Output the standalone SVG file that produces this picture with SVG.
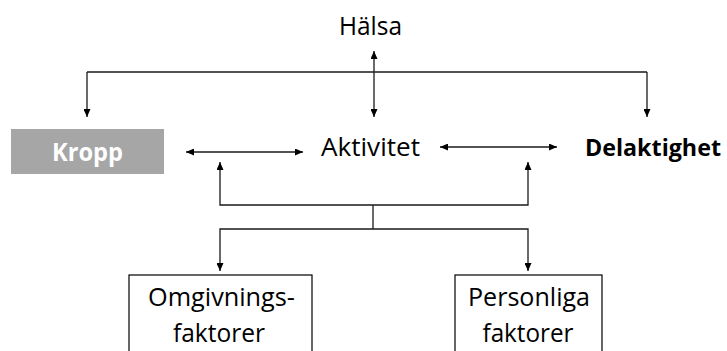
<svg xmlns="http://www.w3.org/2000/svg" width="727" height="351" viewBox="0 0 727 351">
<style>
.t{font-family:"Open Sans","Noto Sans","Liberation Sans",sans-serif;font-size:25px;fill:#000;text-anchor:middle}
.b{font-weight:bold}
.c{fill:none;stroke:#1a1a1a;stroke-width:1.3}
.box{fill:#fff;stroke:#000;stroke-width:1.2}
</style>
<defs>
<marker id="ah" viewBox="0 0 8 7" refX="8" refY="3.5" markerWidth="8" markerHeight="7" markerUnits="userSpaceOnUse" orient="auto-start-reverse">
<path d="M0,0 L8,3.5 L0,7 z" fill="#000"/>
</marker>
</defs>
<rect width="727" height="351" fill="#fff"/>
<g id="connectors">
<path class="c" d="M87,72 H647"/>
<path class="c" d="M87,72 V117" marker-end="url(#ah)"/>
<path class="c" d="M647,72 V117" marker-end="url(#ah)"/>
<path class="c" d="M374,51 V117" marker-start="url(#ah)" marker-end="url(#ah)"/>
<path class="c" d="M186,152 H303" marker-start="url(#ah)" marker-end="url(#ah)"/>
<path class="c" d="M440,147 H557" marker-start="url(#ah)" marker-end="url(#ah)"/>
<path class="c" d="M220,162 V205 H528 V162" marker-start="url(#ah)" marker-end="url(#ah)"/>
<path class="c" d="M373,205 V229"/>
<path class="c" d="M220,271 V229 H528 V271" marker-start="url(#ah)" marker-end="url(#ah)"/>
</g>
<g id="halsa"><text class="t" x="370.5" y="35" textLength="63" lengthAdjust="spacingAndGlyphs">Hälsa</text></g>
<g id="kropp">
<rect x="11" y="129" width="153" height="45" fill="#a6a6a6"/>
<text class="t b" x="87.5" y="161" style="fill:#fff" textLength="71" lengthAdjust="spacingAndGlyphs">Kropp</text>
</g>
<g id="aktivitet"><text class="t" x="370.5" y="156" textLength="99" lengthAdjust="spacingAndGlyphs">Aktivitet</text></g>
<g id="delaktighet"><text class="t b" x="653" y="156" style="font-size:23.5px" textLength="136" lengthAdjust="spacingAndGlyphs">Delaktighet</text></g>
<g id="omgivning">
<rect class="box" x="129" y="275" width="183" height="100"/>
<text class="t" x="221.5" y="306" textLength="147" lengthAdjust="spacingAndGlyphs">Omgivnings-</text>
<text class="t" x="219" y="342" textLength="92" lengthAdjust="spacingAndGlyphs">faktorer</text>
</g>
<g id="personliga">
<rect class="box" x="455" y="275" width="147" height="100"/>
<text class="t" x="529" y="306" textLength="122" lengthAdjust="spacingAndGlyphs">Personliga</text>
<text class="t" x="528" y="342" textLength="91" lengthAdjust="spacingAndGlyphs">faktorer</text>
</g>
</svg>
